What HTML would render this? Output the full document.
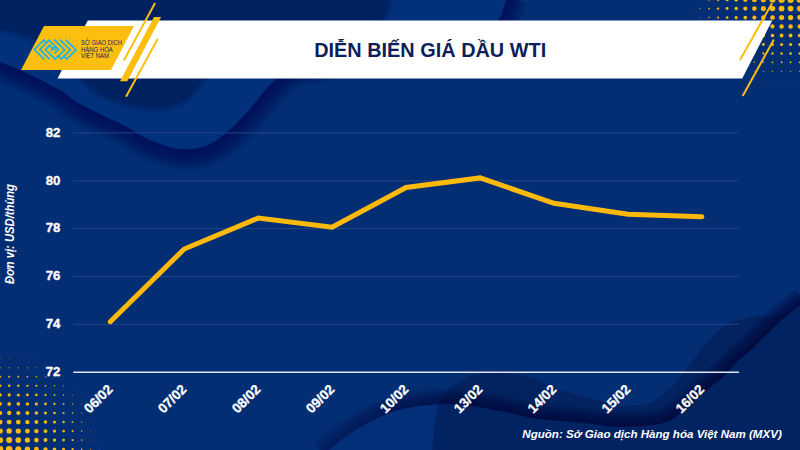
<!DOCTYPE html>
<html><head><meta charset="utf-8"><title>Diễn biến giá dầu WTI</title><style>
html,body{margin:0;padding:0;width:800px;height:450px;overflow:hidden;background:#032d72;}
svg{display:block}
.t{font-family:"Liberation Sans",Arial,sans-serif;}
</style></head><body>
<svg width="800" height="450" viewBox="0 0 800 450">
<defs>
<linearGradient id="gM" x1="300" y1="0" x2="480" y2="0" gradientUnits="userSpaceOnUse"><stop offset="0" stop-color="#fff" stop-opacity="0.45"/><stop offset="1" stop-color="#fff" stop-opacity="1"/></linearGradient>
</defs>
<rect width="800" height="450" fill="#032e74"/>
<!-- background waves -->
<g id="waves"><g fill="none" stroke="#000c55" stroke-opacity="0.0378" stroke-linejoin="round" transform="translate(1,2)"><path d="M-10.0,58.0 C-8.3,58.7 -5.0,60.0 0.0,62.0 C5.0,64.0 10.0,65.3 20.0,70.0 C30.0,74.7 50.0,84.3 60.0,90.0 C70.0,95.7 69.2,98.0 80.0,104.0 C90.8,110.0 113.3,120.0 125.0,126.0 C136.7,132.0 140.8,136.2 150.0,140.0 C159.2,143.8 170.8,148.0 180.0,149.0 C189.2,150.0 197.3,148.7 205.0,146.0 C212.7,143.3 218.8,138.8 226.0,133.0 C233.2,127.2 240.3,119.3 248.0,111.0 C255.7,102.7 263.3,90.7 272.0,83.0 C280.7,75.3 278.7,70.5 300.0,65.0 C321.3,59.5 371.7,54.5 400.0,50.0 C428.3,45.5 453.8,42.8 470.0,38.0 C486.2,33.2 491.3,26.3 497.0,21.0 C502.7,15.7 502.2,10.3 504.0,6.0 C505.8,1.7 507.3,-3.2 508.0,-5.0" stroke-width="2.22"/><path d="M-10.0,58.0 C-8.3,58.7 -5.0,60.0 0.0,62.0 C5.0,64.0 10.0,65.3 20.0,70.0 C30.0,74.7 50.0,84.3 60.0,90.0 C70.0,95.7 69.2,98.0 80.0,104.0 C90.8,110.0 113.3,120.0 125.0,126.0 C136.7,132.0 140.8,136.2 150.0,140.0 C159.2,143.8 170.8,148.0 180.0,149.0 C189.2,150.0 197.3,148.7 205.0,146.0 C212.7,143.3 218.8,138.8 226.0,133.0 C233.2,127.2 240.3,119.3 248.0,111.0 C255.7,102.7 263.3,90.7 272.0,83.0 C280.7,75.3 278.7,70.5 300.0,65.0 C321.3,59.5 371.7,54.5 400.0,50.0 C428.3,45.5 453.8,42.8 470.0,38.0 C486.2,33.2 491.3,26.3 497.0,21.0 C502.7,15.7 502.2,10.3 504.0,6.0 C505.8,1.7 507.3,-3.2 508.0,-5.0" stroke-width="4.44"/><path d="M-10.0,58.0 C-8.3,58.7 -5.0,60.0 0.0,62.0 C5.0,64.0 10.0,65.3 20.0,70.0 C30.0,74.7 50.0,84.3 60.0,90.0 C70.0,95.7 69.2,98.0 80.0,104.0 C90.8,110.0 113.3,120.0 125.0,126.0 C136.7,132.0 140.8,136.2 150.0,140.0 C159.2,143.8 170.8,148.0 180.0,149.0 C189.2,150.0 197.3,148.7 205.0,146.0 C212.7,143.3 218.8,138.8 226.0,133.0 C233.2,127.2 240.3,119.3 248.0,111.0 C255.7,102.7 263.3,90.7 272.0,83.0 C280.7,75.3 278.7,70.5 300.0,65.0 C321.3,59.5 371.7,54.5 400.0,50.0 C428.3,45.5 453.8,42.8 470.0,38.0 C486.2,33.2 491.3,26.3 497.0,21.0 C502.7,15.7 502.2,10.3 504.0,6.0 C505.8,1.7 507.3,-3.2 508.0,-5.0" stroke-width="6.67"/><path d="M-10.0,58.0 C-8.3,58.7 -5.0,60.0 0.0,62.0 C5.0,64.0 10.0,65.3 20.0,70.0 C30.0,74.7 50.0,84.3 60.0,90.0 C70.0,95.7 69.2,98.0 80.0,104.0 C90.8,110.0 113.3,120.0 125.0,126.0 C136.7,132.0 140.8,136.2 150.0,140.0 C159.2,143.8 170.8,148.0 180.0,149.0 C189.2,150.0 197.3,148.7 205.0,146.0 C212.7,143.3 218.8,138.8 226.0,133.0 C233.2,127.2 240.3,119.3 248.0,111.0 C255.7,102.7 263.3,90.7 272.0,83.0 C280.7,75.3 278.7,70.5 300.0,65.0 C321.3,59.5 371.7,54.5 400.0,50.0 C428.3,45.5 453.8,42.8 470.0,38.0 C486.2,33.2 491.3,26.3 497.0,21.0 C502.7,15.7 502.2,10.3 504.0,6.0 C505.8,1.7 507.3,-3.2 508.0,-5.0" stroke-width="8.89"/><path d="M-10.0,58.0 C-8.3,58.7 -5.0,60.0 0.0,62.0 C5.0,64.0 10.0,65.3 20.0,70.0 C30.0,74.7 50.0,84.3 60.0,90.0 C70.0,95.7 69.2,98.0 80.0,104.0 C90.8,110.0 113.3,120.0 125.0,126.0 C136.7,132.0 140.8,136.2 150.0,140.0 C159.2,143.8 170.8,148.0 180.0,149.0 C189.2,150.0 197.3,148.7 205.0,146.0 C212.7,143.3 218.8,138.8 226.0,133.0 C233.2,127.2 240.3,119.3 248.0,111.0 C255.7,102.7 263.3,90.7 272.0,83.0 C280.7,75.3 278.7,70.5 300.0,65.0 C321.3,59.5 371.7,54.5 400.0,50.0 C428.3,45.5 453.8,42.8 470.0,38.0 C486.2,33.2 491.3,26.3 497.0,21.0 C502.7,15.7 502.2,10.3 504.0,6.0 C505.8,1.7 507.3,-3.2 508.0,-5.0" stroke-width="11.11"/><path d="M-10.0,58.0 C-8.3,58.7 -5.0,60.0 0.0,62.0 C5.0,64.0 10.0,65.3 20.0,70.0 C30.0,74.7 50.0,84.3 60.0,90.0 C70.0,95.7 69.2,98.0 80.0,104.0 C90.8,110.0 113.3,120.0 125.0,126.0 C136.7,132.0 140.8,136.2 150.0,140.0 C159.2,143.8 170.8,148.0 180.0,149.0 C189.2,150.0 197.3,148.7 205.0,146.0 C212.7,143.3 218.8,138.8 226.0,133.0 C233.2,127.2 240.3,119.3 248.0,111.0 C255.7,102.7 263.3,90.7 272.0,83.0 C280.7,75.3 278.7,70.5 300.0,65.0 C321.3,59.5 371.7,54.5 400.0,50.0 C428.3,45.5 453.8,42.8 470.0,38.0 C486.2,33.2 491.3,26.3 497.0,21.0 C502.7,15.7 502.2,10.3 504.0,6.0 C505.8,1.7 507.3,-3.2 508.0,-5.0" stroke-width="13.33"/><path d="M-10.0,58.0 C-8.3,58.7 -5.0,60.0 0.0,62.0 C5.0,64.0 10.0,65.3 20.0,70.0 C30.0,74.7 50.0,84.3 60.0,90.0 C70.0,95.7 69.2,98.0 80.0,104.0 C90.8,110.0 113.3,120.0 125.0,126.0 C136.7,132.0 140.8,136.2 150.0,140.0 C159.2,143.8 170.8,148.0 180.0,149.0 C189.2,150.0 197.3,148.7 205.0,146.0 C212.7,143.3 218.8,138.8 226.0,133.0 C233.2,127.2 240.3,119.3 248.0,111.0 C255.7,102.7 263.3,90.7 272.0,83.0 C280.7,75.3 278.7,70.5 300.0,65.0 C321.3,59.5 371.7,54.5 400.0,50.0 C428.3,45.5 453.8,42.8 470.0,38.0 C486.2,33.2 491.3,26.3 497.0,21.0 C502.7,15.7 502.2,10.3 504.0,6.0 C505.8,1.7 507.3,-3.2 508.0,-5.0" stroke-width="15.56"/><path d="M-10.0,58.0 C-8.3,58.7 -5.0,60.0 0.0,62.0 C5.0,64.0 10.0,65.3 20.0,70.0 C30.0,74.7 50.0,84.3 60.0,90.0 C70.0,95.7 69.2,98.0 80.0,104.0 C90.8,110.0 113.3,120.0 125.0,126.0 C136.7,132.0 140.8,136.2 150.0,140.0 C159.2,143.8 170.8,148.0 180.0,149.0 C189.2,150.0 197.3,148.7 205.0,146.0 C212.7,143.3 218.8,138.8 226.0,133.0 C233.2,127.2 240.3,119.3 248.0,111.0 C255.7,102.7 263.3,90.7 272.0,83.0 C280.7,75.3 278.7,70.5 300.0,65.0 C321.3,59.5 371.7,54.5 400.0,50.0 C428.3,45.5 453.8,42.8 470.0,38.0 C486.2,33.2 491.3,26.3 497.0,21.0 C502.7,15.7 502.2,10.3 504.0,6.0 C505.8,1.7 507.3,-3.2 508.0,-5.0" stroke-width="17.78"/><path d="M-10.0,58.0 C-8.3,58.7 -5.0,60.0 0.0,62.0 C5.0,64.0 10.0,65.3 20.0,70.0 C30.0,74.7 50.0,84.3 60.0,90.0 C70.0,95.7 69.2,98.0 80.0,104.0 C90.8,110.0 113.3,120.0 125.0,126.0 C136.7,132.0 140.8,136.2 150.0,140.0 C159.2,143.8 170.8,148.0 180.0,149.0 C189.2,150.0 197.3,148.7 205.0,146.0 C212.7,143.3 218.8,138.8 226.0,133.0 C233.2,127.2 240.3,119.3 248.0,111.0 C255.7,102.7 263.3,90.7 272.0,83.0 C280.7,75.3 278.7,70.5 300.0,65.0 C321.3,59.5 371.7,54.5 400.0,50.0 C428.3,45.5 453.8,42.8 470.0,38.0 C486.2,33.2 491.3,26.3 497.0,21.0 C502.7,15.7 502.2,10.3 504.0,6.0 C505.8,1.7 507.3,-3.2 508.0,-5.0" stroke-width="20.00"/><path d="M-10.0,58.0 C-8.3,58.7 -5.0,60.0 0.0,62.0 C5.0,64.0 10.0,65.3 20.0,70.0 C30.0,74.7 50.0,84.3 60.0,90.0 C70.0,95.7 69.2,98.0 80.0,104.0 C90.8,110.0 113.3,120.0 125.0,126.0 C136.7,132.0 140.8,136.2 150.0,140.0 C159.2,143.8 170.8,148.0 180.0,149.0 C189.2,150.0 197.3,148.7 205.0,146.0 C212.7,143.3 218.8,138.8 226.0,133.0 C233.2,127.2 240.3,119.3 248.0,111.0 C255.7,102.7 263.3,90.7 272.0,83.0 C280.7,75.3 278.7,70.5 300.0,65.0 C321.3,59.5 371.7,54.5 400.0,50.0 C428.3,45.5 453.8,42.8 470.0,38.0 C486.2,33.2 491.3,26.3 497.0,21.0 C502.7,15.7 502.2,10.3 504.0,6.0 C505.8,1.7 507.3,-3.2 508.0,-5.0" stroke-width="22.22"/><path d="M-10.0,58.0 C-8.3,58.7 -5.0,60.0 0.0,62.0 C5.0,64.0 10.0,65.3 20.0,70.0 C30.0,74.7 50.0,84.3 60.0,90.0 C70.0,95.7 69.2,98.0 80.0,104.0 C90.8,110.0 113.3,120.0 125.0,126.0 C136.7,132.0 140.8,136.2 150.0,140.0 C159.2,143.8 170.8,148.0 180.0,149.0 C189.2,150.0 197.3,148.7 205.0,146.0 C212.7,143.3 218.8,138.8 226.0,133.0 C233.2,127.2 240.3,119.3 248.0,111.0 C255.7,102.7 263.3,90.7 272.0,83.0 C280.7,75.3 278.7,70.5 300.0,65.0 C321.3,59.5 371.7,54.5 400.0,50.0 C428.3,45.5 453.8,42.8 470.0,38.0 C486.2,33.2 491.3,26.3 497.0,21.0 C502.7,15.7 502.2,10.3 504.0,6.0 C505.8,1.7 507.3,-3.2 508.0,-5.0" stroke-width="24.44"/><path d="M-10.0,58.0 C-8.3,58.7 -5.0,60.0 0.0,62.0 C5.0,64.0 10.0,65.3 20.0,70.0 C30.0,74.7 50.0,84.3 60.0,90.0 C70.0,95.7 69.2,98.0 80.0,104.0 C90.8,110.0 113.3,120.0 125.0,126.0 C136.7,132.0 140.8,136.2 150.0,140.0 C159.2,143.8 170.8,148.0 180.0,149.0 C189.2,150.0 197.3,148.7 205.0,146.0 C212.7,143.3 218.8,138.8 226.0,133.0 C233.2,127.2 240.3,119.3 248.0,111.0 C255.7,102.7 263.3,90.7 272.0,83.0 C280.7,75.3 278.7,70.5 300.0,65.0 C321.3,59.5 371.7,54.5 400.0,50.0 C428.3,45.5 453.8,42.8 470.0,38.0 C486.2,33.2 491.3,26.3 497.0,21.0 C502.7,15.7 502.2,10.3 504.0,6.0 C505.8,1.7 507.3,-3.2 508.0,-5.0" stroke-width="26.67"/><path d="M-10.0,58.0 C-8.3,58.7 -5.0,60.0 0.0,62.0 C5.0,64.0 10.0,65.3 20.0,70.0 C30.0,74.7 50.0,84.3 60.0,90.0 C70.0,95.7 69.2,98.0 80.0,104.0 C90.8,110.0 113.3,120.0 125.0,126.0 C136.7,132.0 140.8,136.2 150.0,140.0 C159.2,143.8 170.8,148.0 180.0,149.0 C189.2,150.0 197.3,148.7 205.0,146.0 C212.7,143.3 218.8,138.8 226.0,133.0 C233.2,127.2 240.3,119.3 248.0,111.0 C255.7,102.7 263.3,90.7 272.0,83.0 C280.7,75.3 278.7,70.5 300.0,65.0 C321.3,59.5 371.7,54.5 400.0,50.0 C428.3,45.5 453.8,42.8 470.0,38.0 C486.2,33.2 491.3,26.3 497.0,21.0 C502.7,15.7 502.2,10.3 504.0,6.0 C505.8,1.7 507.3,-3.2 508.0,-5.0" stroke-width="28.89"/><path d="M-10.0,58.0 C-8.3,58.7 -5.0,60.0 0.0,62.0 C5.0,64.0 10.0,65.3 20.0,70.0 C30.0,74.7 50.0,84.3 60.0,90.0 C70.0,95.7 69.2,98.0 80.0,104.0 C90.8,110.0 113.3,120.0 125.0,126.0 C136.7,132.0 140.8,136.2 150.0,140.0 C159.2,143.8 170.8,148.0 180.0,149.0 C189.2,150.0 197.3,148.7 205.0,146.0 C212.7,143.3 218.8,138.8 226.0,133.0 C233.2,127.2 240.3,119.3 248.0,111.0 C255.7,102.7 263.3,90.7 272.0,83.0 C280.7,75.3 278.7,70.5 300.0,65.0 C321.3,59.5 371.7,54.5 400.0,50.0 C428.3,45.5 453.8,42.8 470.0,38.0 C486.2,33.2 491.3,26.3 497.0,21.0 C502.7,15.7 502.2,10.3 504.0,6.0 C505.8,1.7 507.3,-3.2 508.0,-5.0" stroke-width="31.11"/><path d="M-10.0,58.0 C-8.3,58.7 -5.0,60.0 0.0,62.0 C5.0,64.0 10.0,65.3 20.0,70.0 C30.0,74.7 50.0,84.3 60.0,90.0 C70.0,95.7 69.2,98.0 80.0,104.0 C90.8,110.0 113.3,120.0 125.0,126.0 C136.7,132.0 140.8,136.2 150.0,140.0 C159.2,143.8 170.8,148.0 180.0,149.0 C189.2,150.0 197.3,148.7 205.0,146.0 C212.7,143.3 218.8,138.8 226.0,133.0 C233.2,127.2 240.3,119.3 248.0,111.0 C255.7,102.7 263.3,90.7 272.0,83.0 C280.7,75.3 278.7,70.5 300.0,65.0 C321.3,59.5 371.7,54.5 400.0,50.0 C428.3,45.5 453.8,42.8 470.0,38.0 C486.2,33.2 491.3,26.3 497.0,21.0 C502.7,15.7 502.2,10.3 504.0,6.0 C505.8,1.7 507.3,-3.2 508.0,-5.0" stroke-width="33.33"/><path d="M-10.0,58.0 C-8.3,58.7 -5.0,60.0 0.0,62.0 C5.0,64.0 10.0,65.3 20.0,70.0 C30.0,74.7 50.0,84.3 60.0,90.0 C70.0,95.7 69.2,98.0 80.0,104.0 C90.8,110.0 113.3,120.0 125.0,126.0 C136.7,132.0 140.8,136.2 150.0,140.0 C159.2,143.8 170.8,148.0 180.0,149.0 C189.2,150.0 197.3,148.7 205.0,146.0 C212.7,143.3 218.8,138.8 226.0,133.0 C233.2,127.2 240.3,119.3 248.0,111.0 C255.7,102.7 263.3,90.7 272.0,83.0 C280.7,75.3 278.7,70.5 300.0,65.0 C321.3,59.5 371.7,54.5 400.0,50.0 C428.3,45.5 453.8,42.8 470.0,38.0 C486.2,33.2 491.3,26.3 497.0,21.0 C502.7,15.7 502.2,10.3 504.0,6.0 C505.8,1.7 507.3,-3.2 508.0,-5.0" stroke-width="35.56"/><path d="M-10.0,58.0 C-8.3,58.7 -5.0,60.0 0.0,62.0 C5.0,64.0 10.0,65.3 20.0,70.0 C30.0,74.7 50.0,84.3 60.0,90.0 C70.0,95.7 69.2,98.0 80.0,104.0 C90.8,110.0 113.3,120.0 125.0,126.0 C136.7,132.0 140.8,136.2 150.0,140.0 C159.2,143.8 170.8,148.0 180.0,149.0 C189.2,150.0 197.3,148.7 205.0,146.0 C212.7,143.3 218.8,138.8 226.0,133.0 C233.2,127.2 240.3,119.3 248.0,111.0 C255.7,102.7 263.3,90.7 272.0,83.0 C280.7,75.3 278.7,70.5 300.0,65.0 C321.3,59.5 371.7,54.5 400.0,50.0 C428.3,45.5 453.8,42.8 470.0,38.0 C486.2,33.2 491.3,26.3 497.0,21.0 C502.7,15.7 502.2,10.3 504.0,6.0 C505.8,1.7 507.3,-3.2 508.0,-5.0" stroke-width="37.78"/><path d="M-10.0,58.0 C-8.3,58.7 -5.0,60.0 0.0,62.0 C5.0,64.0 10.0,65.3 20.0,70.0 C30.0,74.7 50.0,84.3 60.0,90.0 C70.0,95.7 69.2,98.0 80.0,104.0 C90.8,110.0 113.3,120.0 125.0,126.0 C136.7,132.0 140.8,136.2 150.0,140.0 C159.2,143.8 170.8,148.0 180.0,149.0 C189.2,150.0 197.3,148.7 205.0,146.0 C212.7,143.3 218.8,138.8 226.0,133.0 C233.2,127.2 240.3,119.3 248.0,111.0 C255.7,102.7 263.3,90.7 272.0,83.0 C280.7,75.3 278.7,70.5 300.0,65.0 C321.3,59.5 371.7,54.5 400.0,50.0 C428.3,45.5 453.8,42.8 470.0,38.0 C486.2,33.2 491.3,26.3 497.0,21.0 C502.7,15.7 502.2,10.3 504.0,6.0 C505.8,1.7 507.3,-3.2 508.0,-5.0" stroke-width="40.00"/></g><path d="M-10.0,58.0 C-8.3,58.7 -5.0,60.0 0.0,62.0 C5.0,64.0 10.0,65.3 20.0,70.0 C30.0,74.7 50.0,84.3 60.0,90.0 C70.0,95.7 69.2,98.0 80.0,104.0 C90.8,110.0 113.3,120.0 125.0,126.0 C136.7,132.0 140.8,136.2 150.0,140.0 C159.2,143.8 170.8,148.0 180.0,149.0 C189.2,150.0 197.3,148.7 205.0,146.0 C212.7,143.3 218.8,138.8 226.0,133.0 C233.2,127.2 240.3,119.3 248.0,111.0 C255.7,102.7 263.3,90.7 272.0,83.0 C280.7,75.3 278.7,70.5 300.0,65.0 C321.3,59.5 371.7,54.5 400.0,50.0 C428.3,45.5 453.8,42.8 470.0,38.0 C486.2,33.2 491.3,26.3 497.0,21.0 C502.7,15.7 502.2,10.3 504.0,6.0 C505.8,1.7 507.3,-3.2 508.0,-5.0 L512,-10 L-10,-10 Z" fill="#03307a"/><g fill="none" stroke="#000c45" stroke-opacity="0.0543" stroke-linejoin="round" transform="translate(0,1)"><path d="M-10.0,25.5 C-8.3,26.0 -5.0,26.9 0.0,28.3 C5.0,29.7 13.3,31.7 20.0,34.0 C26.7,36.3 33.7,38.7 40.0,42.0 C46.3,45.3 52.7,49.7 58.0,54.0 C63.3,58.3 67.5,63.3 72.0,68.0 C76.5,72.7 78.7,77.0 85.0,82.0 C91.3,87.0 98.3,93.7 110.0,98.0 C121.7,102.3 142.5,107.7 155.0,108.0 C167.5,108.3 177.0,104.8 185.0,100.0 C193.0,95.2 197.2,86.5 203.0,79.0 C208.8,71.5 203.8,61.8 220.0,55.0 C236.2,48.2 275.8,42.2 300.0,38.0 C324.2,33.8 351.3,32.8 365.0,30.0 C378.7,27.2 378.2,25.0 382.0,21.0 C385.8,17.0 386.5,10.3 388.0,6.0 C389.5,1.7 390.5,-3.2 391.0,-5.0" stroke-width="2.00"/><path d="M-10.0,25.5 C-8.3,26.0 -5.0,26.9 0.0,28.3 C5.0,29.7 13.3,31.7 20.0,34.0 C26.7,36.3 33.7,38.7 40.0,42.0 C46.3,45.3 52.7,49.7 58.0,54.0 C63.3,58.3 67.5,63.3 72.0,68.0 C76.5,72.7 78.7,77.0 85.0,82.0 C91.3,87.0 98.3,93.7 110.0,98.0 C121.7,102.3 142.5,107.7 155.0,108.0 C167.5,108.3 177.0,104.8 185.0,100.0 C193.0,95.2 197.2,86.5 203.0,79.0 C208.8,71.5 203.8,61.8 220.0,55.0 C236.2,48.2 275.8,42.2 300.0,38.0 C324.2,33.8 351.3,32.8 365.0,30.0 C378.7,27.2 378.2,25.0 382.0,21.0 C385.8,17.0 386.5,10.3 388.0,6.0 C389.5,1.7 390.5,-3.2 391.0,-5.0" stroke-width="4.00"/><path d="M-10.0,25.5 C-8.3,26.0 -5.0,26.9 0.0,28.3 C5.0,29.7 13.3,31.7 20.0,34.0 C26.7,36.3 33.7,38.7 40.0,42.0 C46.3,45.3 52.7,49.7 58.0,54.0 C63.3,58.3 67.5,63.3 72.0,68.0 C76.5,72.7 78.7,77.0 85.0,82.0 C91.3,87.0 98.3,93.7 110.0,98.0 C121.7,102.3 142.5,107.7 155.0,108.0 C167.5,108.3 177.0,104.8 185.0,100.0 C193.0,95.2 197.2,86.5 203.0,79.0 C208.8,71.5 203.8,61.8 220.0,55.0 C236.2,48.2 275.8,42.2 300.0,38.0 C324.2,33.8 351.3,32.8 365.0,30.0 C378.7,27.2 378.2,25.0 382.0,21.0 C385.8,17.0 386.5,10.3 388.0,6.0 C389.5,1.7 390.5,-3.2 391.0,-5.0" stroke-width="6.00"/><path d="M-10.0,25.5 C-8.3,26.0 -5.0,26.9 0.0,28.3 C5.0,29.7 13.3,31.7 20.0,34.0 C26.7,36.3 33.7,38.7 40.0,42.0 C46.3,45.3 52.7,49.7 58.0,54.0 C63.3,58.3 67.5,63.3 72.0,68.0 C76.5,72.7 78.7,77.0 85.0,82.0 C91.3,87.0 98.3,93.7 110.0,98.0 C121.7,102.3 142.5,107.7 155.0,108.0 C167.5,108.3 177.0,104.8 185.0,100.0 C193.0,95.2 197.2,86.5 203.0,79.0 C208.8,71.5 203.8,61.8 220.0,55.0 C236.2,48.2 275.8,42.2 300.0,38.0 C324.2,33.8 351.3,32.8 365.0,30.0 C378.7,27.2 378.2,25.0 382.0,21.0 C385.8,17.0 386.5,10.3 388.0,6.0 C389.5,1.7 390.5,-3.2 391.0,-5.0" stroke-width="8.00"/></g><path d="M-10.0,25.5 C-8.3,26.0 -5.0,26.9 0.0,28.3 C5.0,29.7 13.3,31.7 20.0,34.0 C26.7,36.3 33.7,38.7 40.0,42.0 C46.3,45.3 52.7,49.7 58.0,54.0 C63.3,58.3 67.5,63.3 72.0,68.0 C76.5,72.7 78.7,77.0 85.0,82.0 C91.3,87.0 98.3,93.7 110.0,98.0 C121.7,102.3 142.5,107.7 155.0,108.0 C167.5,108.3 177.0,104.8 185.0,100.0 C193.0,95.2 197.2,86.5 203.0,79.0 C208.8,71.5 203.8,61.8 220.0,55.0 C236.2,48.2 275.8,42.2 300.0,38.0 C324.2,33.8 351.3,32.8 365.0,30.0 C378.7,27.2 378.2,25.0 382.0,21.0 C385.8,17.0 386.5,10.3 388.0,6.0 C389.5,1.7 390.5,-3.2 391.0,-5.0 L392,-10 L-10,-10 Z" fill="#012260"/><mask id="mB2" maskUnits="userSpaceOnUse" x="0" y="0" width="800" height="450"><rect width="800" height="450" fill="url(#gM)"/></mask><g mask="url(#mB2)"><g fill="none" stroke="#000838" stroke-opacity="0.0814" stroke-linejoin="round" transform="translate(-1,-1)"><path d="M324.0,455.0 C327.5,452.0 336.7,442.8 345.0,437.0 C353.3,431.2 364.3,424.7 374.0,420.0 C383.7,415.3 390.3,411.7 403.0,409.0 C415.7,406.3 433.8,403.7 450.0,404.0 C466.2,404.3 485.5,408.5 500.0,411.0 C514.5,413.5 524.5,417.2 537.0,419.0 C549.5,420.8 564.5,421.0 575.0,422.0 C585.5,423.0 592.5,424.2 600.0,425.0 C607.5,425.8 610.0,427.2 620.0,427.0 C630.0,426.8 650.0,426.2 660.0,424.0 C670.0,421.8 674.0,418.0 680.0,414.0 C686.0,410.0 690.7,404.7 696.0,400.0 C701.3,395.3 707.3,390.0 712.0,386.0 C716.7,382.0 719.8,380.0 724.0,376.0 C728.2,372.0 732.7,366.2 737.0,362.0 C741.3,357.8 745.3,355.3 750.0,351.0 C754.7,346.7 759.3,341.5 765.0,336.0 C770.7,330.5 777.3,323.7 784.0,318.0 C790.7,312.3 801.5,304.7 805.0,302.0" stroke-width="2.00"/><path d="M324.0,455.0 C327.5,452.0 336.7,442.8 345.0,437.0 C353.3,431.2 364.3,424.7 374.0,420.0 C383.7,415.3 390.3,411.7 403.0,409.0 C415.7,406.3 433.8,403.7 450.0,404.0 C466.2,404.3 485.5,408.5 500.0,411.0 C514.5,413.5 524.5,417.2 537.0,419.0 C549.5,420.8 564.5,421.0 575.0,422.0 C585.5,423.0 592.5,424.2 600.0,425.0 C607.5,425.8 610.0,427.2 620.0,427.0 C630.0,426.8 650.0,426.2 660.0,424.0 C670.0,421.8 674.0,418.0 680.0,414.0 C686.0,410.0 690.7,404.7 696.0,400.0 C701.3,395.3 707.3,390.0 712.0,386.0 C716.7,382.0 719.8,380.0 724.0,376.0 C728.2,372.0 732.7,366.2 737.0,362.0 C741.3,357.8 745.3,355.3 750.0,351.0 C754.7,346.7 759.3,341.5 765.0,336.0 C770.7,330.5 777.3,323.7 784.0,318.0 C790.7,312.3 801.5,304.7 805.0,302.0" stroke-width="4.00"/><path d="M324.0,455.0 C327.5,452.0 336.7,442.8 345.0,437.0 C353.3,431.2 364.3,424.7 374.0,420.0 C383.7,415.3 390.3,411.7 403.0,409.0 C415.7,406.3 433.8,403.7 450.0,404.0 C466.2,404.3 485.5,408.5 500.0,411.0 C514.5,413.5 524.5,417.2 537.0,419.0 C549.5,420.8 564.5,421.0 575.0,422.0 C585.5,423.0 592.5,424.2 600.0,425.0 C607.5,425.8 610.0,427.2 620.0,427.0 C630.0,426.8 650.0,426.2 660.0,424.0 C670.0,421.8 674.0,418.0 680.0,414.0 C686.0,410.0 690.7,404.7 696.0,400.0 C701.3,395.3 707.3,390.0 712.0,386.0 C716.7,382.0 719.8,380.0 724.0,376.0 C728.2,372.0 732.7,366.2 737.0,362.0 C741.3,357.8 745.3,355.3 750.0,351.0 C754.7,346.7 759.3,341.5 765.0,336.0 C770.7,330.5 777.3,323.7 784.0,318.0 C790.7,312.3 801.5,304.7 805.0,302.0" stroke-width="6.00"/><path d="M324.0,455.0 C327.5,452.0 336.7,442.8 345.0,437.0 C353.3,431.2 364.3,424.7 374.0,420.0 C383.7,415.3 390.3,411.7 403.0,409.0 C415.7,406.3 433.8,403.7 450.0,404.0 C466.2,404.3 485.5,408.5 500.0,411.0 C514.5,413.5 524.5,417.2 537.0,419.0 C549.5,420.8 564.5,421.0 575.0,422.0 C585.5,423.0 592.5,424.2 600.0,425.0 C607.5,425.8 610.0,427.2 620.0,427.0 C630.0,426.8 650.0,426.2 660.0,424.0 C670.0,421.8 674.0,418.0 680.0,414.0 C686.0,410.0 690.7,404.7 696.0,400.0 C701.3,395.3 707.3,390.0 712.0,386.0 C716.7,382.0 719.8,380.0 724.0,376.0 C728.2,372.0 732.7,366.2 737.0,362.0 C741.3,357.8 745.3,355.3 750.0,351.0 C754.7,346.7 759.3,341.5 765.0,336.0 C770.7,330.5 777.3,323.7 784.0,318.0 C790.7,312.3 801.5,304.7 805.0,302.0" stroke-width="8.00"/><path d="M324.0,455.0 C327.5,452.0 336.7,442.8 345.0,437.0 C353.3,431.2 364.3,424.7 374.0,420.0 C383.7,415.3 390.3,411.7 403.0,409.0 C415.7,406.3 433.8,403.7 450.0,404.0 C466.2,404.3 485.5,408.5 500.0,411.0 C514.5,413.5 524.5,417.2 537.0,419.0 C549.5,420.8 564.5,421.0 575.0,422.0 C585.5,423.0 592.5,424.2 600.0,425.0 C607.5,425.8 610.0,427.2 620.0,427.0 C630.0,426.8 650.0,426.2 660.0,424.0 C670.0,421.8 674.0,418.0 680.0,414.0 C686.0,410.0 690.7,404.7 696.0,400.0 C701.3,395.3 707.3,390.0 712.0,386.0 C716.7,382.0 719.8,380.0 724.0,376.0 C728.2,372.0 732.7,366.2 737.0,362.0 C741.3,357.8 745.3,355.3 750.0,351.0 C754.7,346.7 759.3,341.5 765.0,336.0 C770.7,330.5 777.3,323.7 784.0,318.0 C790.7,312.3 801.5,304.7 805.0,302.0" stroke-width="10.00"/><path d="M324.0,455.0 C327.5,452.0 336.7,442.8 345.0,437.0 C353.3,431.2 364.3,424.7 374.0,420.0 C383.7,415.3 390.3,411.7 403.0,409.0 C415.7,406.3 433.8,403.7 450.0,404.0 C466.2,404.3 485.5,408.5 500.0,411.0 C514.5,413.5 524.5,417.2 537.0,419.0 C549.5,420.8 564.5,421.0 575.0,422.0 C585.5,423.0 592.5,424.2 600.0,425.0 C607.5,425.8 610.0,427.2 620.0,427.0 C630.0,426.8 650.0,426.2 660.0,424.0 C670.0,421.8 674.0,418.0 680.0,414.0 C686.0,410.0 690.7,404.7 696.0,400.0 C701.3,395.3 707.3,390.0 712.0,386.0 C716.7,382.0 719.8,380.0 724.0,376.0 C728.2,372.0 732.7,366.2 737.0,362.0 C741.3,357.8 745.3,355.3 750.0,351.0 C754.7,346.7 759.3,341.5 765.0,336.0 C770.7,330.5 777.3,323.7 784.0,318.0 C790.7,312.3 801.5,304.7 805.0,302.0" stroke-width="12.00"/><path d="M324.0,455.0 C327.5,452.0 336.7,442.8 345.0,437.0 C353.3,431.2 364.3,424.7 374.0,420.0 C383.7,415.3 390.3,411.7 403.0,409.0 C415.7,406.3 433.8,403.7 450.0,404.0 C466.2,404.3 485.5,408.5 500.0,411.0 C514.5,413.5 524.5,417.2 537.0,419.0 C549.5,420.8 564.5,421.0 575.0,422.0 C585.5,423.0 592.5,424.2 600.0,425.0 C607.5,425.8 610.0,427.2 620.0,427.0 C630.0,426.8 650.0,426.2 660.0,424.0 C670.0,421.8 674.0,418.0 680.0,414.0 C686.0,410.0 690.7,404.7 696.0,400.0 C701.3,395.3 707.3,390.0 712.0,386.0 C716.7,382.0 719.8,380.0 724.0,376.0 C728.2,372.0 732.7,366.2 737.0,362.0 C741.3,357.8 745.3,355.3 750.0,351.0 C754.7,346.7 759.3,341.5 765.0,336.0 C770.7,330.5 777.3,323.7 784.0,318.0 C790.7,312.3 801.5,304.7 805.0,302.0" stroke-width="14.00"/><path d="M324.0,455.0 C327.5,452.0 336.7,442.8 345.0,437.0 C353.3,431.2 364.3,424.7 374.0,420.0 C383.7,415.3 390.3,411.7 403.0,409.0 C415.7,406.3 433.8,403.7 450.0,404.0 C466.2,404.3 485.5,408.5 500.0,411.0 C514.5,413.5 524.5,417.2 537.0,419.0 C549.5,420.8 564.5,421.0 575.0,422.0 C585.5,423.0 592.5,424.2 600.0,425.0 C607.5,425.8 610.0,427.2 620.0,427.0 C630.0,426.8 650.0,426.2 660.0,424.0 C670.0,421.8 674.0,418.0 680.0,414.0 C686.0,410.0 690.7,404.7 696.0,400.0 C701.3,395.3 707.3,390.0 712.0,386.0 C716.7,382.0 719.8,380.0 724.0,376.0 C728.2,372.0 732.7,366.2 737.0,362.0 C741.3,357.8 745.3,355.3 750.0,351.0 C754.7,346.7 759.3,341.5 765.0,336.0 C770.7,330.5 777.3,323.7 784.0,318.0 C790.7,312.3 801.5,304.7 805.0,302.0" stroke-width="16.00"/><path d="M324.0,455.0 C327.5,452.0 336.7,442.8 345.0,437.0 C353.3,431.2 364.3,424.7 374.0,420.0 C383.7,415.3 390.3,411.7 403.0,409.0 C415.7,406.3 433.8,403.7 450.0,404.0 C466.2,404.3 485.5,408.5 500.0,411.0 C514.5,413.5 524.5,417.2 537.0,419.0 C549.5,420.8 564.5,421.0 575.0,422.0 C585.5,423.0 592.5,424.2 600.0,425.0 C607.5,425.8 610.0,427.2 620.0,427.0 C630.0,426.8 650.0,426.2 660.0,424.0 C670.0,421.8 674.0,418.0 680.0,414.0 C686.0,410.0 690.7,404.7 696.0,400.0 C701.3,395.3 707.3,390.0 712.0,386.0 C716.7,382.0 719.8,380.0 724.0,376.0 C728.2,372.0 732.7,366.2 737.0,362.0 C741.3,357.8 745.3,355.3 750.0,351.0 C754.7,346.7 759.3,341.5 765.0,336.0 C770.7,330.5 777.3,323.7 784.0,318.0 C790.7,312.3 801.5,304.7 805.0,302.0" stroke-width="18.00"/><path d="M324.0,455.0 C327.5,452.0 336.7,442.8 345.0,437.0 C353.3,431.2 364.3,424.7 374.0,420.0 C383.7,415.3 390.3,411.7 403.0,409.0 C415.7,406.3 433.8,403.7 450.0,404.0 C466.2,404.3 485.5,408.5 500.0,411.0 C514.5,413.5 524.5,417.2 537.0,419.0 C549.5,420.8 564.5,421.0 575.0,422.0 C585.5,423.0 592.5,424.2 600.0,425.0 C607.5,425.8 610.0,427.2 620.0,427.0 C630.0,426.8 650.0,426.2 660.0,424.0 C670.0,421.8 674.0,418.0 680.0,414.0 C686.0,410.0 690.7,404.7 696.0,400.0 C701.3,395.3 707.3,390.0 712.0,386.0 C716.7,382.0 719.8,380.0 724.0,376.0 C728.2,372.0 732.7,366.2 737.0,362.0 C741.3,357.8 745.3,355.3 750.0,351.0 C754.7,346.7 759.3,341.5 765.0,336.0 C770.7,330.5 777.3,323.7 784.0,318.0 C790.7,312.3 801.5,304.7 805.0,302.0" stroke-width="20.00"/><path d="M324.0,455.0 C327.5,452.0 336.7,442.8 345.0,437.0 C353.3,431.2 364.3,424.7 374.0,420.0 C383.7,415.3 390.3,411.7 403.0,409.0 C415.7,406.3 433.8,403.7 450.0,404.0 C466.2,404.3 485.5,408.5 500.0,411.0 C514.5,413.5 524.5,417.2 537.0,419.0 C549.5,420.8 564.5,421.0 575.0,422.0 C585.5,423.0 592.5,424.2 600.0,425.0 C607.5,425.8 610.0,427.2 620.0,427.0 C630.0,426.8 650.0,426.2 660.0,424.0 C670.0,421.8 674.0,418.0 680.0,414.0 C686.0,410.0 690.7,404.7 696.0,400.0 C701.3,395.3 707.3,390.0 712.0,386.0 C716.7,382.0 719.8,380.0 724.0,376.0 C728.2,372.0 732.7,366.2 737.0,362.0 C741.3,357.8 745.3,355.3 750.0,351.0 C754.7,346.7 759.3,341.5 765.0,336.0 C770.7,330.5 777.3,323.7 784.0,318.0 C790.7,312.3 801.5,304.7 805.0,302.0" stroke-width="22.00"/><path d="M324.0,455.0 C327.5,452.0 336.7,442.8 345.0,437.0 C353.3,431.2 364.3,424.7 374.0,420.0 C383.7,415.3 390.3,411.7 403.0,409.0 C415.7,406.3 433.8,403.7 450.0,404.0 C466.2,404.3 485.5,408.5 500.0,411.0 C514.5,413.5 524.5,417.2 537.0,419.0 C549.5,420.8 564.5,421.0 575.0,422.0 C585.5,423.0 592.5,424.2 600.0,425.0 C607.5,425.8 610.0,427.2 620.0,427.0 C630.0,426.8 650.0,426.2 660.0,424.0 C670.0,421.8 674.0,418.0 680.0,414.0 C686.0,410.0 690.7,404.7 696.0,400.0 C701.3,395.3 707.3,390.0 712.0,386.0 C716.7,382.0 719.8,380.0 724.0,376.0 C728.2,372.0 732.7,366.2 737.0,362.0 C741.3,357.8 745.3,355.3 750.0,351.0 C754.7,346.7 759.3,341.5 765.0,336.0 C770.7,330.5 777.3,323.7 784.0,318.0 C790.7,312.3 801.5,304.7 805.0,302.0" stroke-width="24.00"/><path d="M324.0,455.0 C327.5,452.0 336.7,442.8 345.0,437.0 C353.3,431.2 364.3,424.7 374.0,420.0 C383.7,415.3 390.3,411.7 403.0,409.0 C415.7,406.3 433.8,403.7 450.0,404.0 C466.2,404.3 485.5,408.5 500.0,411.0 C514.5,413.5 524.5,417.2 537.0,419.0 C549.5,420.8 564.5,421.0 575.0,422.0 C585.5,423.0 592.5,424.2 600.0,425.0 C607.5,425.8 610.0,427.2 620.0,427.0 C630.0,426.8 650.0,426.2 660.0,424.0 C670.0,421.8 674.0,418.0 680.0,414.0 C686.0,410.0 690.7,404.7 696.0,400.0 C701.3,395.3 707.3,390.0 712.0,386.0 C716.7,382.0 719.8,380.0 724.0,376.0 C728.2,372.0 732.7,366.2 737.0,362.0 C741.3,357.8 745.3,355.3 750.0,351.0 C754.7,346.7 759.3,341.5 765.0,336.0 C770.7,330.5 777.3,323.7 784.0,318.0 C790.7,312.3 801.5,304.7 805.0,302.0" stroke-width="26.00"/><path d="M324.0,455.0 C327.5,452.0 336.7,442.8 345.0,437.0 C353.3,431.2 364.3,424.7 374.0,420.0 C383.7,415.3 390.3,411.7 403.0,409.0 C415.7,406.3 433.8,403.7 450.0,404.0 C466.2,404.3 485.5,408.5 500.0,411.0 C514.5,413.5 524.5,417.2 537.0,419.0 C549.5,420.8 564.5,421.0 575.0,422.0 C585.5,423.0 592.5,424.2 600.0,425.0 C607.5,425.8 610.0,427.2 620.0,427.0 C630.0,426.8 650.0,426.2 660.0,424.0 C670.0,421.8 674.0,418.0 680.0,414.0 C686.0,410.0 690.7,404.7 696.0,400.0 C701.3,395.3 707.3,390.0 712.0,386.0 C716.7,382.0 719.8,380.0 724.0,376.0 C728.2,372.0 732.7,366.2 737.0,362.0 C741.3,357.8 745.3,355.3 750.0,351.0 C754.7,346.7 759.3,341.5 765.0,336.0 C770.7,330.5 777.3,323.7 784.0,318.0 C790.7,312.3 801.5,304.7 805.0,302.0" stroke-width="28.00"/><path d="M324.0,455.0 C327.5,452.0 336.7,442.8 345.0,437.0 C353.3,431.2 364.3,424.7 374.0,420.0 C383.7,415.3 390.3,411.7 403.0,409.0 C415.7,406.3 433.8,403.7 450.0,404.0 C466.2,404.3 485.5,408.5 500.0,411.0 C514.5,413.5 524.5,417.2 537.0,419.0 C549.5,420.8 564.5,421.0 575.0,422.0 C585.5,423.0 592.5,424.2 600.0,425.0 C607.5,425.8 610.0,427.2 620.0,427.0 C630.0,426.8 650.0,426.2 660.0,424.0 C670.0,421.8 674.0,418.0 680.0,414.0 C686.0,410.0 690.7,404.7 696.0,400.0 C701.3,395.3 707.3,390.0 712.0,386.0 C716.7,382.0 719.8,380.0 724.0,376.0 C728.2,372.0 732.7,366.2 737.0,362.0 C741.3,357.8 745.3,355.3 750.0,351.0 C754.7,346.7 759.3,341.5 765.0,336.0 C770.7,330.5 777.3,323.7 784.0,318.0 C790.7,312.3 801.5,304.7 805.0,302.0" stroke-width="30.00"/></g></g><path d="M324.0,455.0 C327.5,452.0 336.7,442.8 345.0,437.0 C353.3,431.2 364.3,424.7 374.0,420.0 C383.7,415.3 390.3,411.7 403.0,409.0 C415.7,406.3 433.8,403.7 450.0,404.0 C466.2,404.3 485.5,408.5 500.0,411.0 C514.5,413.5 524.5,417.2 537.0,419.0 C549.5,420.8 564.5,421.0 575.0,422.0 C585.5,423.0 592.5,424.2 600.0,425.0 C607.5,425.8 610.0,427.2 620.0,427.0 C630.0,426.8 650.0,426.2 660.0,424.0 C670.0,421.8 674.0,418.0 680.0,414.0 C686.0,410.0 690.7,404.7 696.0,400.0 C701.3,395.3 707.3,390.0 712.0,386.0 C716.7,382.0 719.8,380.0 724.0,376.0 C728.2,372.0 732.7,366.2 737.0,362.0 C741.3,357.8 745.3,355.3 750.0,351.0 C754.7,346.7 759.3,341.5 765.0,336.0 C770.7,330.5 777.3,323.7 784.0,318.0 C790.7,312.3 801.5,304.7 805.0,302.0 L805,455 Z" fill="#032f78"/><path d="M432.0,455.0 C432.5,449.5 433.3,431.7 435.0,422.0 C436.7,412.3 437.5,404.0 442.0,397.0 C446.5,390.0 454.5,384.2 462.0,380.0 C469.5,375.8 478.7,373.0 487.0,372.0 C495.3,371.0 503.7,372.7 512.0,374.0 C520.3,375.3 528.7,377.3 537.0,380.0 C545.3,382.7 551.5,386.5 562.0,390.0 C572.5,393.5 590.3,398.3 600.0,401.0 C609.7,403.7 611.7,405.7 620.0,406.0 C628.3,406.3 641.7,406.0 650.0,403.0 C658.3,400.0 664.0,393.5 670.0,388.0 C676.0,382.5 681.5,375.5 686.0,370.0 C690.5,364.5 693.0,360.2 697.0,355.0 C701.0,349.8 704.8,344.2 710.0,339.0 C715.2,333.8 721.0,327.7 728.0,324.0 C735.0,320.3 743.5,318.5 752.0,317.0 C760.5,315.5 770.2,317.2 779.0,315.0 C787.8,312.8 800.7,305.8 805.0,304.0 L805,455 Z" fill="#000a32" fill-opacity="0.3"/></g>
<g id="dots" fill="#f9b90f"><circle cx="690.9" cy="-0.3" r="0.32"/><circle cx="699.9" cy="-0.3" r="0.64"/><circle cx="709.0" cy="-0.3" r="0.96"/><circle cx="718.1" cy="-0.3" r="1.28"/><circle cx="727.1" cy="-0.3" r="1.60"/><circle cx="736.2" cy="-0.3" r="1.91"/><circle cx="745.3" cy="-0.3" r="2.21"/><circle cx="754.4" cy="-0.3" r="2.50"/><circle cx="763.4" cy="-0.3" r="2.77"/><circle cx="772.5" cy="-0.3" r="3.00"/><circle cx="781.6" cy="-0.3" r="3.16"/><circle cx="790.6" cy="-0.3" r="3.19"/><circle cx="799.7" cy="-0.3" r="3.09"/><circle cx="690.9" cy="8.6" r="0.24"/><circle cx="699.9" cy="8.6" r="0.56"/><circle cx="709.0" cy="8.6" r="0.87"/><circle cx="718.1" cy="8.6" r="1.18"/><circle cx="727.1" cy="8.6" r="1.48"/><circle cx="736.2" cy="8.6" r="1.77"/><circle cx="745.3" cy="8.6" r="2.05"/><circle cx="754.4" cy="8.6" r="2.31"/><circle cx="763.4" cy="8.6" r="2.55"/><circle cx="772.5" cy="8.6" r="2.73"/><circle cx="781.6" cy="8.6" r="2.85"/><circle cx="790.6" cy="8.6" r="2.87"/><circle cx="799.7" cy="8.6" r="2.80"/><circle cx="699.9" cy="17.6" r="0.44"/><circle cx="709.0" cy="17.6" r="0.74"/><circle cx="718.1" cy="17.6" r="1.04"/><circle cx="727.1" cy="17.6" r="1.32"/><circle cx="736.2" cy="17.6" r="1.60"/><circle cx="745.3" cy="17.6" r="1.85"/><circle cx="754.4" cy="17.6" r="2.09"/><circle cx="763.4" cy="17.6" r="2.29"/><circle cx="772.5" cy="17.6" r="2.44"/><circle cx="781.6" cy="17.6" r="2.53"/><circle cx="790.6" cy="17.6" r="2.55"/><circle cx="799.7" cy="17.6" r="2.49"/><circle cx="699.9" cy="26.5" r="0.30"/><circle cx="709.0" cy="26.5" r="0.59"/><circle cx="718.1" cy="26.5" r="0.87"/><circle cx="727.1" cy="26.5" r="1.14"/><circle cx="736.2" cy="26.5" r="1.39"/><circle cx="745.3" cy="26.5" r="1.63"/><circle cx="754.4" cy="26.5" r="1.84"/><circle cx="763.4" cy="26.5" r="2.01"/><circle cx="772.5" cy="26.5" r="2.14"/><circle cx="781.6" cy="26.5" r="2.22"/><circle cx="790.6" cy="26.5" r="2.23"/><circle cx="799.7" cy="26.5" r="2.18"/><circle cx="709.0" cy="35.5" r="0.42"/><circle cx="718.1" cy="35.5" r="0.68"/><circle cx="727.1" cy="35.5" r="0.93"/><circle cx="736.2" cy="35.5" r="1.17"/><circle cx="745.3" cy="35.5" r="1.38"/><circle cx="754.4" cy="35.5" r="1.57"/><circle cx="763.4" cy="35.5" r="1.72"/><circle cx="772.5" cy="35.5" r="1.83"/><circle cx="781.6" cy="35.5" r="1.90"/><circle cx="790.6" cy="35.5" r="1.91"/><circle cx="799.7" cy="35.5" r="1.87"/><circle cx="709.0" cy="44.5" r="0.22"/><circle cx="718.1" cy="44.5" r="0.47"/><circle cx="727.1" cy="44.5" r="0.71"/><circle cx="736.2" cy="44.5" r="0.93"/><circle cx="745.3" cy="44.5" r="1.12"/><circle cx="754.4" cy="44.5" r="1.29"/><circle cx="763.4" cy="44.5" r="1.42"/><circle cx="772.5" cy="44.5" r="1.52"/><circle cx="781.6" cy="44.5" r="1.58"/><circle cx="790.6" cy="44.5" r="1.59"/><circle cx="799.7" cy="44.5" r="1.55"/><circle cx="718.1" cy="53.4" r="0.25"/><circle cx="727.1" cy="53.4" r="0.47"/><circle cx="736.2" cy="53.4" r="0.67"/><circle cx="745.3" cy="53.4" r="0.85"/><circle cx="754.4" cy="53.4" r="1.00"/><circle cx="763.4" cy="53.4" r="1.12"/><circle cx="772.5" cy="53.4" r="1.21"/><circle cx="781.6" cy="53.4" r="1.26"/><circle cx="790.6" cy="53.4" r="1.27"/><circle cx="799.7" cy="53.4" r="1.24"/><circle cx="727.1" cy="62.3" r="0.21"/><circle cx="736.2" cy="62.3" r="0.40"/><circle cx="745.3" cy="62.3" r="0.57"/><circle cx="754.4" cy="62.3" r="0.70"/><circle cx="763.4" cy="62.3" r="0.81"/><circle cx="772.5" cy="62.3" r="0.89"/><circle cx="781.6" cy="62.3" r="0.94"/><circle cx="790.6" cy="62.3" r="0.95"/><circle cx="799.7" cy="62.3" r="0.92"/><circle cx="745.3" cy="71.3" r="0.28"/><circle cx="754.4" cy="71.3" r="0.40"/><circle cx="763.4" cy="71.3" r="0.51"/><circle cx="772.5" cy="71.3" r="0.58"/><circle cx="781.6" cy="71.3" r="0.62"/><circle cx="790.6" cy="71.3" r="0.62"/><circle cx="799.7" cy="71.3" r="0.60"/><circle cx="763.4" cy="80.2" r="0.19"/><circle cx="772.5" cy="80.2" r="0.26"/><circle cx="781.6" cy="80.2" r="0.30"/><circle cx="790.6" cy="80.2" r="0.30"/><circle cx="799.7" cy="80.2" r="0.28"/><circle cx="0.2" cy="449.2" r="3.09"/><circle cx="9.2" cy="449.2" r="3.30"/><circle cx="18.3" cy="449.2" r="2.99"/><circle cx="27.4" cy="449.2" r="2.68"/><circle cx="36.4" cy="449.2" r="2.37"/><circle cx="45.5" cy="449.2" r="2.06"/><circle cx="54.5" cy="449.2" r="1.75"/><circle cx="63.6" cy="449.2" r="1.44"/><circle cx="72.6" cy="449.2" r="1.13"/><circle cx="81.7" cy="449.2" r="0.82"/><circle cx="90.7" cy="449.2" r="0.50"/><circle cx="99.8" cy="449.2" r="0.19"/><circle cx="0.2" cy="440.1" r="2.94"/><circle cx="9.2" cy="440.1" r="3.03"/><circle cx="18.3" cy="440.1" r="2.87"/><circle cx="27.4" cy="440.1" r="2.61"/><circle cx="36.4" cy="440.1" r="2.32"/><circle cx="45.5" cy="440.1" r="2.02"/><circle cx="54.5" cy="440.1" r="1.72"/><circle cx="63.6" cy="440.1" r="1.41"/><circle cx="72.6" cy="440.1" r="1.10"/><circle cx="81.7" cy="440.1" r="0.80"/><circle cx="90.7" cy="440.1" r="0.49"/><circle cx="99.8" cy="440.1" r="0.18"/><circle cx="0.2" cy="431.1" r="2.68"/><circle cx="9.2" cy="431.1" r="2.73"/><circle cx="18.3" cy="431.1" r="2.64"/><circle cx="27.4" cy="431.1" r="2.44"/><circle cx="36.4" cy="431.1" r="2.19"/><circle cx="45.5" cy="431.1" r="1.92"/><circle cx="54.5" cy="431.1" r="1.63"/><circle cx="63.6" cy="431.1" r="1.34"/><circle cx="72.6" cy="431.1" r="1.04"/><circle cx="81.7" cy="431.1" r="0.74"/><circle cx="90.7" cy="431.1" r="0.44"/><circle cx="0.2" cy="422.1" r="2.40"/><circle cx="9.2" cy="422.1" r="2.44"/><circle cx="18.3" cy="422.1" r="2.37"/><circle cx="27.4" cy="422.1" r="2.22"/><circle cx="36.4" cy="422.1" r="2.01"/><circle cx="45.5" cy="422.1" r="1.77"/><circle cx="54.5" cy="422.1" r="1.51"/><circle cx="63.6" cy="422.1" r="1.23"/><circle cx="72.6" cy="422.1" r="0.95"/><circle cx="81.7" cy="422.1" r="0.66"/><circle cx="90.7" cy="422.1" r="0.36"/><circle cx="0.2" cy="413.0" r="2.12"/><circle cx="9.2" cy="413.0" r="2.14"/><circle cx="18.3" cy="413.0" r="2.09"/><circle cx="27.4" cy="413.0" r="1.97"/><circle cx="36.4" cy="413.0" r="1.80"/><circle cx="45.5" cy="413.0" r="1.58"/><circle cx="54.5" cy="413.0" r="1.35"/><circle cx="63.6" cy="413.0" r="1.09"/><circle cx="72.6" cy="413.0" r="0.82"/><circle cx="81.7" cy="413.0" r="0.54"/><circle cx="90.7" cy="413.0" r="0.26"/><circle cx="0.2" cy="403.9" r="1.83"/><circle cx="9.2" cy="403.9" r="1.85"/><circle cx="18.3" cy="403.9" r="1.81"/><circle cx="27.4" cy="403.9" r="1.71"/><circle cx="36.4" cy="403.9" r="1.56"/><circle cx="45.5" cy="403.9" r="1.37"/><circle cx="54.5" cy="403.9" r="1.16"/><circle cx="63.6" cy="403.9" r="0.92"/><circle cx="72.6" cy="403.9" r="0.67"/><circle cx="81.7" cy="403.9" r="0.40"/><circle cx="0.2" cy="394.9" r="1.54"/><circle cx="9.2" cy="394.9" r="1.55"/><circle cx="18.3" cy="394.9" r="1.52"/><circle cx="27.4" cy="394.9" r="1.43"/><circle cx="36.4" cy="394.9" r="1.30"/><circle cx="45.5" cy="394.9" r="1.14"/><circle cx="54.5" cy="394.9" r="0.94"/><circle cx="63.6" cy="394.9" r="0.73"/><circle cx="72.6" cy="394.9" r="0.49"/><circle cx="81.7" cy="394.9" r="0.24"/><circle cx="0.2" cy="385.8" r="1.24"/><circle cx="9.2" cy="385.8" r="1.26"/><circle cx="18.3" cy="385.8" r="1.23"/><circle cx="27.4" cy="385.8" r="1.15"/><circle cx="36.4" cy="385.8" r="1.04"/><circle cx="45.5" cy="385.8" r="0.89"/><circle cx="54.5" cy="385.8" r="0.72"/><circle cx="63.6" cy="385.8" r="0.52"/><circle cx="72.6" cy="385.8" r="0.30"/><circle cx="0.2" cy="376.8" r="0.95"/><circle cx="9.2" cy="376.8" r="0.96"/><circle cx="18.3" cy="376.8" r="0.94"/><circle cx="27.4" cy="376.8" r="0.87"/><circle cx="36.4" cy="376.8" r="0.77"/><circle cx="45.5" cy="376.8" r="0.64"/><circle cx="54.5" cy="376.8" r="0.48"/><circle cx="63.6" cy="376.8" r="0.29"/><circle cx="0.2" cy="367.8" r="0.65"/><circle cx="9.2" cy="367.8" r="0.67"/><circle cx="18.3" cy="367.8" r="0.64"/><circle cx="27.4" cy="367.8" r="0.59"/><circle cx="36.4" cy="367.8" r="0.49"/><circle cx="45.5" cy="367.8" r="0.37"/><circle cx="54.5" cy="367.8" r="0.23"/><circle cx="0.2" cy="358.7" r="0.36"/><circle cx="9.2" cy="358.7" r="0.37"/><circle cx="18.3" cy="358.7" r="0.35"/><circle cx="27.4" cy="358.7" r="0.30"/><circle cx="36.4" cy="358.7" r="0.22"/></g>
<!-- header -->
<polygon points="87.8,20.5 772.2,20.5 742.2,78.4 57.5,78.4" fill="#ffffff"/>
<polygon points="44,26 134,26 111,70 21,70" fill="#fcbf10"/>
<line x1="155.1" y1="3.1" x2="123.8" y2="60.4" stroke="#fcbf10" stroke-width="2"/>
<polygon points="154,16.9 161.1,16.9 127.3,81.3 120,81.3" fill="#fcbf10"/>
<line x1="157.8" y1="38.7" x2="126" y2="96.7" stroke="#fcbf10" stroke-width="2"/>
<line x1="772" y1="3.2" x2="740" y2="60" stroke="#fcbf10" stroke-width="2"/>
<line x1="773.9" y1="39.5" x2="742.7" y2="96" stroke="#fcbf10" stroke-width="2"/>
<!-- logo -->
<g fill="none" stroke="#1bb3ea" stroke-width="1.7" stroke-linecap="square" stroke-linejoin="miter"><polyline points="43.7,40.2 34.4,49.5 43.6,58.7"/><polyline points="43.7,40.2 46.4,42.9 49.1,40.2 58.4,49.5 55.2,52.7"/><polyline points="46.4,42.9 39.9,49.4 49.2,58.7"/><polyline points="49.6,45.4 45.5,49.5 54.7,58.7"/><polyline points="49.6,45.4 52.9,48.7"/><polyline points="54.9,40.2 64.6,49.9 58.0,56.5"/><polyline points="60.6,40.2 70.3,49.9 61.2,59.0 58.2,56.0 55.2,59.0"/><polyline points="66.3,40.2 76.0,49.9 66.8,59.1 63.9,56.2"/><polyline points="51.5,50.2 55.2,46.5 58.0,49.3"/></g><rect x="54.3" y="48.6" width="1.7" height="1.7" fill="#1bb3ea" transform="rotate(45 55.15 49.45)"/>
<text class="t" x="72.6" y="42.6" font-size="2.6" fill="#7fb3a8">™</text>
<g class="t" fill="#232657" font-size="6.5">
<text x="81" y="45" textLength="41" lengthAdjust="spacingAndGlyphs">SỞ GIAO DỊCH</text>
<text x="81" y="51.9" textLength="31.8" lengthAdjust="spacingAndGlyphs">HÀNG HÓA</text>
<text x="81" y="58.4" textLength="28" lengthAdjust="spacingAndGlyphs">VIỆT NAM</text>
</g>
<text class="t" x="314.2" y="56.6" font-size="19.8" font-weight="bold" fill="#0c1f5a" textLength="232" lengthAdjust="spacingAndGlyphs">DIỄN BIẾN GIÁ DẦU WTI</text>
<!-- chart -->
<g stroke="#1f4488" stroke-width="1"><line x1="73.3" y1="324.3" x2="738.9" y2="324.3"/><line x1="73.3" y1="276.5" x2="738.9" y2="276.5"/><line x1="73.3" y1="228.6" x2="738.9" y2="228.6"/><line x1="73.3" y1="180.8" x2="738.9" y2="180.8"/><line x1="73.3" y1="132.9" x2="738.9" y2="132.9"/></g>
<line x1="73.3" y1="372.2" x2="738.9" y2="372.2" stroke="#dfe6f2" stroke-width="1.6"/>
<polyline points="110.3,321.7 184.2,249.0 258.2,218.1 332.1,227.2 406.1,187.5 480.1,177.9 554.0,203.3 628.0,214.3 701.9,216.7" fill="none" stroke="#feb90a" stroke-width="5" stroke-linejoin="miter" stroke-linecap="round"/>
<g class="t" fill="#ffffff" stroke="#ffffff" stroke-width="0.35" font-size="13.2" font-weight="bold" text-anchor="end"><text x="60.3" y="376.0">72</text><text x="60.3" y="328.1">74</text><text x="60.3" y="280.3">76</text><text x="60.3" y="232.4">78</text><text x="60.3" y="184.6">80</text><text x="60.3" y="136.7">82</text></g>
<g class="t" fill="#ffffff" stroke="#ffffff" stroke-width="0.3" font-size="13.5" font-weight="bold" text-anchor="end"><text transform="translate(113.5,390.2) rotate(-45)">06/02</text><text transform="translate(187.4,390.2) rotate(-45)">07/02</text><text transform="translate(261.4,390.2) rotate(-45)">08/02</text><text transform="translate(335.3,390.2) rotate(-45)">09/02</text><text transform="translate(409.3,390.2) rotate(-45)">10/02</text><text transform="translate(483.3,390.2) rotate(-45)">13/02</text><text transform="translate(557.2,390.2) rotate(-45)">14/02</text><text transform="translate(631.2,390.2) rotate(-45)">15/02</text><text transform="translate(705.1,390.2) rotate(-45)">16/02</text></g>
<text class="t" transform="translate(14.2,284) rotate(-90)" fill="#ffffff" font-size="12.3" font-weight="bold" font-style="italic" textLength="100" lengthAdjust="spacingAndGlyphs">Đơn vị: USD/thùng</text>
<text class="t" x="522.3" y="438.2" fill="#ffffff" font-size="11.5" font-weight="bold" font-style="italic" textLength="259.5" lengthAdjust="spacingAndGlyphs">Nguồn: Sở Giao dịch Hàng hóa Việt Nam (MXV)</text>
</svg>
</body></html>
